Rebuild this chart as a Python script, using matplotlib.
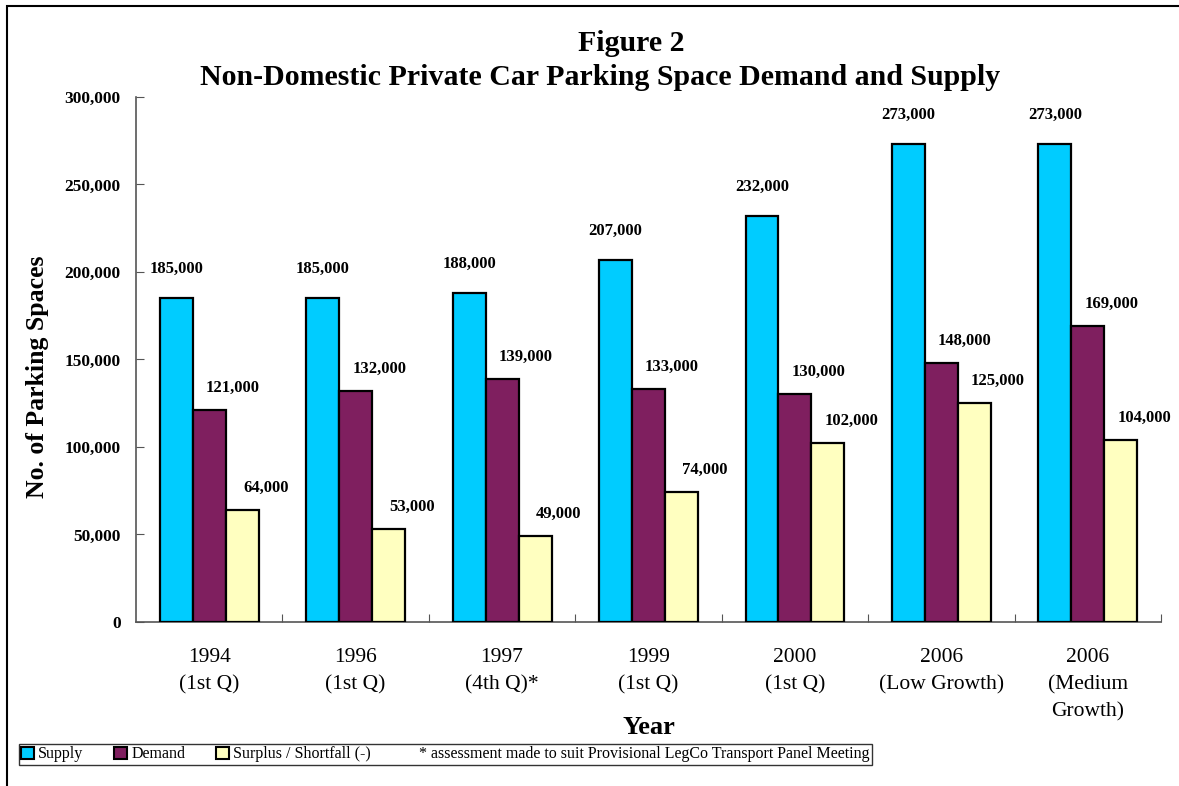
import numpy as np
import matplotlib as mpl
mpl.use('Agg')
mpl.rcParams['font.family'] = 'serif'
mpl.rcParams['font.serif'] = ['Liberation Serif', 'DejaVu Serif']
import matplotlib.pyplot as plt
from matplotlib.patches import Patch, Rectangle
from matplotlib.ticker import FuncFormatter

"""

Non-domestic private car parking space demand and supply.

"""

years = ['1994\n(1st Q)', '1996\n(1st Q)', '1997\n(4th Q)*', '1999\n(1st Q)',
         '2000\n(1st Q)', '2006\n(Low Growth)', '2006\n(Medium\nGrowth)']
supply = [185000, 185000, 188000, 207000, 232000, 273000, 273000]
demand = [121000, 132000, 139000, 133000, 130000, 148000, 169000]
surplus = [64000, 53000, 49000, 74000, 102000, 125000, 104000]

note = '* assessment made to suit Provisional LegCo Transport Panel Meeting'


def plot_data():

    fig = plt.figure(figsize=(11.79, 7.86), dpi=100)
    ax = fig.add_axes([0.1154, 0.2087, 0.8693, 0.6679])

    # outer frame of the chart area
    fig.patches.append(Rectangle((0.006, -0.01), 1.2, 1.002, transform=fig.transFigure,
                                 fill=False, ec='k', lw=1.5, zorder=-1))

    x = np.arange(len(years))
    w = 0.225
    series = [(supply, '#00ccff', 'Supply', -w, (0, 21)),
              (demand, '#7f1f5f', 'Demand', 0, (17, 16)),
              (surplus, '#ffffc0', 'Surplus / Shortfall (-)', w, (17, 16))]

    for vals, c, lab, dx, off in series:
        ax.bar(x + dx, vals, width=w, color=c, ec='k', lw=1.6, zorder=3)
        for xi, v in zip(x, vals):
            ax.annotate('{:,}'.format(v), (xi + dx, v), xytext=off,
                        textcoords='offset points', ha='center', va='center',
                        fontsize=12, fontweight='bold')

    ax.set_xlim(-0.5, len(years) - 0.5)
    ax.set_ylim(0, 300000)
    ax.set_yticks(np.arange(0, 300001, 50000))
    ax.yaxis.set_major_formatter(FuncFormatter(lambda v, p: '{:,}'.format(int(v))))
    for t in ax.get_yticklabels():
        t.set_fontweight('bold')
        t.set_fontsize(12.5)

    # category separators as major ticks, names as minor ticks
    ax.set_xticks(np.arange(0.5, len(years) - 0.4, 1.0))
    ax.set_xticklabels([])
    ax.set_xticks(x, minor=True)
    ax.set_xticklabels(years, minor=True, fontsize=15.5, linespacing=1.55)
    ax.tick_params(axis='x', which='minor', length=0, pad=19)
    ax.tick_params(axis='x', which='major', direction='in', length=6, color='#555555')
    ax.tick_params(axis='y', direction='in', length=6, color='#555555', pad=11)

    for s in ['top', 'right']:
        ax.spines[s].set_visible(False)
    for s in ['left', 'bottom']:
        ax.spines[s].set_color('#555555')
        ax.spines[s].set_linewidth(1.2)

    fig.text(38 / 1179, 1 - 377 / 786, 'No. of Parking Spaces', rotation=90,
             ha='center', va='center', fontsize=18.5, fontweight='bold')
    fig.text(649 / 1179, 1 - 727 / 786, 'Year', ha='center', va='center',
             fontsize=19, fontweight='bold')

    fig.text(0.535, 0.945, 'Figure 2', ha='center', va='center',
             fontsize=21.5, fontweight='bold')
    fig.text(0.509, 0.902, 'Non-Domestic Private Car Parking Space Demand and Supply',
             ha='center', va='center', fontsize=21.5, fontweight='bold')

    handles = [Patch(fc=c, ec='k', lw=1.5) for _, c, _, _, _ in series]
    labels = [lab for _, _, lab, _, _ in series]
    handles.append(Patch(fc='none', ec='none'))
    labels.append(note)
    leg = fig.legend(handles, labels, loc='lower left', bbox_to_anchor=(0.016, 0.027),
                     borderaxespad=0, ncol=4, fontsize=11.5, frameon=True, fancybox=False,
                     handlelength=0.8, handleheight=0.8, handletextpad=0.25,
                     columnspacing=1.95, borderpad=0.15)
    leg.get_frame().set_edgecolor('k')
    leg.get_frame().set_linewidth(1.0)

    plt.savefig('out.png', dpi=100)

    return


plot_data()
